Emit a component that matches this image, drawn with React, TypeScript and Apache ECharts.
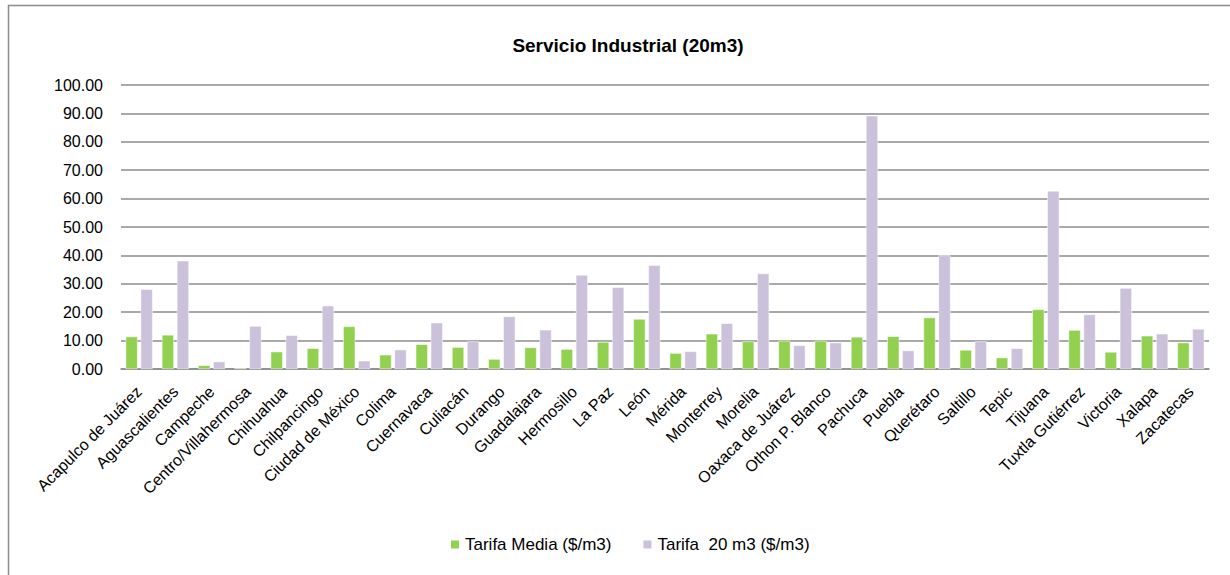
import React, { useEffect, useRef } from "react";
import * as echarts from "echarts";

const categories = [
  "Acapulco de Juárez", "Aguascalientes", "Campeche", "Centro/Villahermosa", "Chihuahua",
  "Chilpancingo", "Ciudad de México", "Colima", "Cuernavaca", "Culiacán", "Durango",
  "Guadalajara", "Hermosillo", "La Paz", "León", "Mérida", "Monterrey", "Morelia",
  "Oaxaca de Juárez", "Othon P. Blanco", "Pachuca", "Puebla", "Querétaro", "Saltillo",
  "Tepic", "Tijuana", "Tuxtla Gutiérrez", "Victoria", "Xalapa", "Zacatecas",
];

const tarifaMedia = [
  11.4, 12.0, 1.3, 0.4, 6.1, 7.3, 15.0, 5.0, 8.7, 7.7, 3.5,
  7.6, 7.0, 9.5, 17.6, 5.6, 12.4, 9.7, 9.9, 9.9, 11.3, 11.5, 18.1, 6.7,
  4.0, 21.0, 13.7, 6.0, 11.7, 9.3,
];

const tarifa20 = [
  28.1, 38.1, 2.6, 15.1, 11.9, 22.3, 2.9, 6.8, 16.3, 9.7, 18.5,
  13.8, 33.1, 28.8, 36.5, 6.2, 16.1, 33.6, 8.3, 9.3, 89.2, 6.5, 40.0, 9.7,
  7.3, 62.7, 19.2, 28.5, 12.4, 14.1,
];

const seriesNames = ["Tarifa Media ($/m3)", "Tarifa  20 m3 ($/m3)"];
const title = "Servicio Industrial (20m3)";

export default function App() {
  const ref = useRef<HTMLDivElement>(null);
  useEffect(() => {
    if (!ref.current) return;
    const chart = echarts.init(ref.current, undefined, { renderer: "svg" });
    const font = "Liberation Sans";
    chart.setOption({
      animation: false,
      backgroundColor: "#ffffff",
      title: {
        text: title,
        left: 623,
        textAlign: "center",
        top: 31,
        textStyle: { fontFamily: font, fontSize: 19, fontWeight: "bold", color: "#000" },
      },
      graphic: [
        {
          type: "rect",
          shape: { x: 8.5, y: 5.5, width: 1260, height: 620 },
          style: { fill: "none", stroke: "#8c8c8c", lineWidth: 1.5 },
          silent: true,
        },
      ],
      legend: {
        bottom: 17,
        left: 444,
        itemWidth: 10,
        itemHeight: 10,
        itemGap: 30,
        icon: "rect",
        textStyle: { fontFamily: font, fontSize: 17, color: "#000" },
        data: seriesNames,
      },
      grid: { left: 121, right: 21, top: 85, bottom: 206, containLabel: false },
      xAxis: {
        type: "category",
        data: categories,
        axisLine: { lineStyle: { color: "#8c8c8c", width: 1.5 } },
        axisTick: { show: false },
        axisLabel: {
          rotate: 45,
          interval: 0,
          margin: 20,
          fontFamily: font,
          fontSize: 16,
          color: "#000",
        },
      },
      yAxis: {
        type: "value",
        min: 0,
        max: 100,
        interval: 10,
        axisLine: { show: false },
        axisTick: { show: false },
        splitLine: { lineStyle: { color: "#8c8c8c", width: 1.5 } },
        axisLabel: {
          margin: 18,
          fontFamily: font,
          fontSize: 16,
          color: "#000",
          formatter: (v: number) => v.toFixed(2),
        },
      },
      series: [
        {
          name: seriesNames[0],
          type: "bar",
          data: tarifaMedia,
          barWidth: 12,
          barGap: "25%",
          itemStyle: { color: "#92d050", borderColor: "#ffffff", borderWidth: 0.5 },
        },
        {
          name: seriesNames[1],
          type: "bar",
          data: tarifa20,
          barWidth: 12,
          barGap: "25%",
          itemStyle: { color: "#ccc1da", borderColor: "#ffffff", borderWidth: 0.5 },
        },
      ],
    });
    return () => chart.dispose();
  }, []);
  return (
    <div
      ref={ref}
      style={{ position: "absolute", left: 0, top: 0, width: 1230, height: 575 }}
    />
  );
}
